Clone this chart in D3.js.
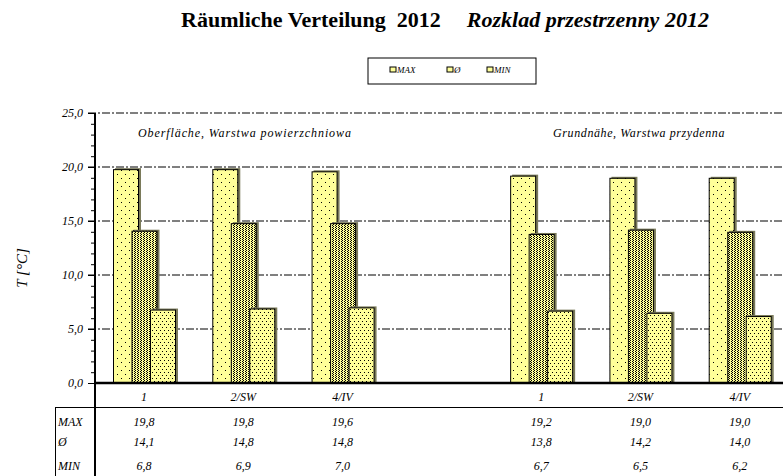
<!DOCTYPE html>
<html>
<head>
<meta charset="utf-8">
<script src="https://cdn.jsdelivr.net/npm/d3@7"></script>
<style>
  body { margin: 0; background: #fff; }
  svg { display: block; }
  .it { font-family: "Liberation Serif", "DejaVu Serif", serif; font-style: italic; }
</style>
</head>
<body>
<svg id="chart" width="783" height="476"></svg>
<script>
// data
const categories = ["1", "2/SW", "4/IV", "", "1", "2/SW", "4/IV"];
const maxValues = [19.8, 19.8, 19.6, null, 19.2, 19.0, 19.0];
const avgValues = [14.1, 14.8, 14.8, null, 13.8, 14.2, 14.0];
const minValues = [6.8, 6.9, 7.0, null, 6.7, 6.5, 6.2];
const seriesNames = ["MAX", "Ø", "MIN"];
const yTicks = [0, 5, 10, 15, 20, 25];
const zoneLabels = ["Oberfläche, Warstwa powierzchniowa", "Grundnähe, Warstwa przydenna"];

const series = [maxValues, avgValues, minValues];
const fmt = v => v.toFixed(1).replace(".", ",");

var svg = d3.select("#chart"),
  margin = { top: 113, right: -7, bottom: 93, left: 95 },
  width = 783 - margin.left - margin.right,
  height = 476 - margin.top - margin.bottom;

var x = d3.scaleBand().domain(d3.range(categories.length)).range([0, width]).padding(0),
  xs = d3.scalePoint().domain(seriesNames).range([18, 55]),
  y = d3.scaleLinear().domain([0, 25]).range([height, 0]);
var barW = 26;

// fill patterns
var defs = svg.append("defs");
function pattern(id, size, dots) {
  var p = defs.append("pattern").attr("id", id).attr("patternUnits", "userSpaceOnUse")
    .attr("width", size[0]).attr("height", size[1]);
  p.append("rect").attr("width", size[0]).attr("height", size[1]).attr("fill", "#ffff99");
  dots.forEach(d => p.append("rect").attr("x", d[0]).attr("y", d[1]).attr("width", 1).attr("height", 1).attr("fill", "#000"));
}
pattern("pMax", [8, 8], [[2, 1], [6, 5]]);
pattern("pAvg", [3, 2], [[0, 0], [1, 1]]);
pattern("pMin", [4, 6], [[1, 1], [3, 4]]);
var fills = ["url(#pMax)", "url(#pAvg)", "url(#pMin)"];

// title
var title = svg.append("text").attr("x", 445).attr("y", 27).attr("text-anchor", "middle")
  .attr("xml:space", "preserve")
  .style("font-family", "Liberation Serif, serif").style("font-weight", "bold").style("font-size", "22px");
title.append("tspan").text("Räumliche Verteilung\u00a0\u00a02012");
title.append("tspan").attr("dx", 26).style("font-style", "italic").text("Rozklad przestrzenny 2012");

// legend
var lg = svg.append("g").attr("transform", "translate(368,58)");
lg.append("rect").attr("width", 168).attr("height", 26).attr("fill", "#fff").attr("stroke", "#000");
var lgX = [22, 79, 119];
seriesNames.forEach((s, i) => {
  lg.append("rect").attr("x", lgX[i]).attr("y", 9).attr("width", 6).attr("height", 5)
    .attr("fill", "#ffff99").attr("stroke", "#000").attr("stroke-width", 1);
  lg.append("text").attr("class", "it").attr("x", lgX[i] + 7).attr("y", 15)
    .style("font-size", "9px").text(s);
});

var g = svg.append("g").attr("transform", "translate(" + margin.left + "," + margin.top + ")");

// grid lines
g.selectAll(".grid").data(yTicks.filter(t => t > 0)).enter().append("line")
  .attr("x1", -7).attr("x2", 783 - margin.left)
  .attr("y1", d => y(d)).attr("y2", d => y(d))
  .attr("stroke", "#000").attr("stroke-width", 1).attr("stroke-dasharray", "8,2,2,2");

// y axis with minor ticks
g.append("g").call(d3.axisLeft(y).tickValues(d3.range(0, 26)).tickSize(4).tickFormat(""))
  .call(a => a.select(".domain").remove());
g.append("g").call(d3.axisLeft(y).tickValues(yTicks).tickSize(7).tickFormat(fmt))
  .call(a => a.select(".domain").remove())
  .call(a => a.selectAll("text").attr("class", "it").style("font-size", "12px").attr("x", -12));
g.append("line").attr("x1", 0).attr("x2", 0).attr("y1", 0).attr("y2", 476 - margin.top)
  .attr("stroke", "#000").attr("stroke-width", 2);

// zone labels
[[x(1) + x.bandwidth() / 2 + 1, zoneLabels[0], 0.9], [x(5) + x.bandwidth() / 2 - 2, zoneLabels[1], 0.6]].forEach(z => {
  g.append("text").attr("class", "it").attr("x", z[0]).attr("y", 24).attr("text-anchor", "middle")
    .style("font-size", "12px").style("letter-spacing", z[2] + "px").text(z[1]);
});

// bars: shadow then body, series drawn in order so later ones overlap
series.forEach((vals, si) => {
  var data = vals.map((v, i) => ({ i: i, v: v })).filter(d => d.v != null);
  var bg = g.append("g");
  bg.selectAll(".shadow").data(data).enter().append("rect")
    .attr("x", d => x(d.i) + xs(seriesNames[si]) + 2)
    .attr("y", d => y(d.v) - 1)
    .attr("width", barW).attr("height", d => height - y(d.v) + 1)
    .attr("fill", "#7a7a5a");
  bg.selectAll(".bar").data(data).enter().append("rect")
    .attr("class", "bar")
    .attr("x", d => x(d.i) + xs(seriesNames[si]) + 0.5)
    .attr("y", d => y(d.v) + 0.5)
    .attr("width", barW - 1).attr("height", d => height - y(d.v))
    .attr("fill", fills[si]).attr("stroke", "#000").attr("stroke-width", 1);
});

// x axis line
g.append("line").attr("x1", 0).attr("x2", 783 - margin.left).attr("y1", height).attr("y2", height)
  .attr("stroke", "#000").attr("stroke-width", 2.5);

// category labels
g.selectAll(".cat").data(categories).enter().append("text").attr("class", "it")
  .attr("x", (d, i) => x(i) + 49).attr("y", height + 18).attr("text-anchor", "middle")
  .style("font-size", "12px").text(d => d);

// data table
var tb = svg.append("g");
tb.append("line").attr("x1", 55).attr("x2", 783).attr("y1", 407.5).attr("y2", 407.5).attr("stroke", "#000");
tb.append("line").attr("x1", 55.5).attr("x2", 55.5).attr("y1", 407).attr("y2", 476).attr("stroke", "#000");
var rowY = [426, 446, 470];
seriesNames.forEach((s, si) => {
  tb.append("text").attr("class", "it").attr("x", 58).attr("y", rowY[si]).style("font-size", "12px").text(s);
  series[si].forEach((v, i) => {
    if (v == null) return;
    tb.append("text").attr("class", "it").attr("x", margin.left + x(i) + 49).attr("y", rowY[si])
      .attr("text-anchor", "middle").style("font-size", "12px").text(fmt(v));
  });
});

// y title
svg.append("text").attr("class", "it").attr("transform", "translate(27,268) rotate(-90)")
  .attr("text-anchor", "middle").style("font-size", "15px").text("T [°C]");
</script>
</body>
</html>
